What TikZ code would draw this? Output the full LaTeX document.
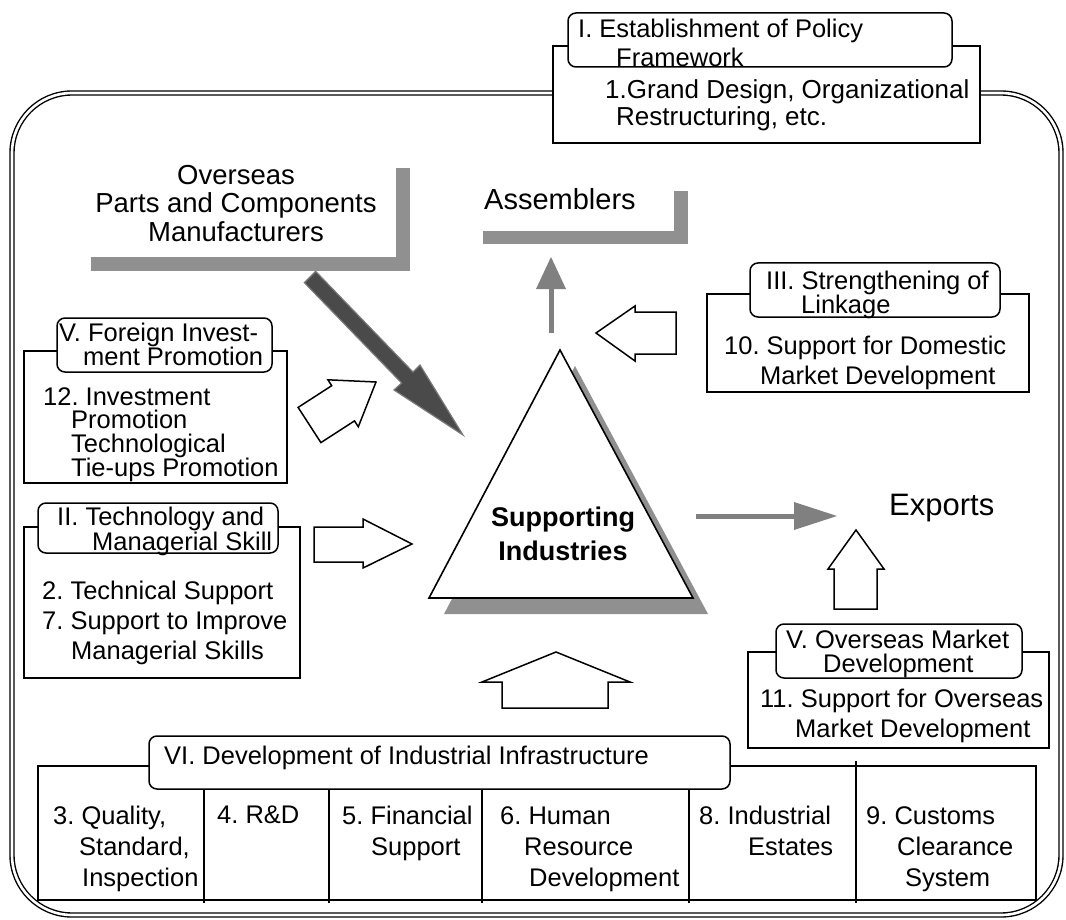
\documentclass[tikz,border=0pt]{standalone}
\usepackage{fontspec}
\setmainfont{Liberation Sans}
\newcommand\fs[2]{\fontsize{#1pt}{#2pt}\selectfont\frenchspacing}
\definecolor{barg}{HTML}{909090}
\definecolor{darkar}{HTML}{4A4A4A}
\definecolor{darkedge}{HTML}{7A7A7A}
\definecolor{arrg}{HTML}{808080}
\begin{document}
\begin{tikzpicture}[x=1pt,y=-1pt,
  frame/.style={double, double distance=2.6pt, line width=1.4pt, rounded corners=60pt},
  box/.style={draw, fill=white, line width=1.5pt},
  ttl/.style={draw, fill=white, line width=1.5pt, rounded corners=8pt},
  txt/.style={anchor=north west, inner sep=0pt, align=left},
  bar/.style={fill=barg, draw=none},
  openarrow/.style={draw, fill=white, line width=1.5pt, line join=miter},
  grayarrow/.style={fill=arrg, draw=none},
  sep/.style={line width=1.5pt}]
\useasboundingbox (0,0) rectangle (1066,920);
% outer frame
\draw[frame] (12,93) rectangle (1061,915);

% Box I
\draw[box] (553,46) rectangle (980,143);
\draw[ttl] (568,13) rectangle (952,67);
\node[txt, font=\fs{25.5}{29}] (t1) at (578,19) {I. Establishment of Policy\\\hspace*{38pt}Framework};
\node[txt, font=\fs{26}{27}] (c1) at (605,79) {1.Grand Design, Organizational\\\hspace*{11pt}Restructuring, etc.};

% Overseas manufacturers
\fill[bar] (396,168) rectangle (410,271);
\fill[bar] (91,257) rectangle (410,271);
\node[anchor=north, inner sep=0pt, align=center, font=\fs{27.5}{28.5}] (ovs) at (236,165) {Overseas\\Parts and Components\\Manufacturers};

% Assemblers
\fill[bar] (674,191) rectangle (688,244);
\fill[bar] (483,231) rectangle (688,244);
\node[txt, font=\fs{29}{30}] (asm) at (484,188) {Assemblers};

% dark arrow
\draw[fill=darkar, draw=darkedge, line width=1.2pt, line join=miter]
  (315.7,271.4) -- (413,372) -- (420,365) -- (463,435) -- (394,390) -- (401.6,383) -- (304.3,282.6) -- cycle;

% triangle
\fill[barg] (575,366) -- (444,614) -- (708,614) -- cycle;
\draw[fill=white, line width=1.6pt, line join=miter] (560,350) -- (429,598) -- (693,598) -- cycle;
\node[anchor=north, inner sep=0pt, align=center, font=\bfseries\fs{27}{34}] (si) at (563,507) {Supporting\\Industries};

% gray up arrow to assemblers
\fill[grayarrow] (548.5,333) rectangle (553.5,287);
\fill[grayarrow] (551,257) -- (536,289) -- (566,289) -- cycle;

% gray right arrow to exports
\fill[grayarrow] (696,513.5) rectangle (796,518.5);
\fill[grayarrow] (837,516) -- (794,502) -- (794,530) -- cycle;
\node[txt, font=\fs{31}{32}] (exp) at (889,494) {Exports};

% Box III
\draw[box] (707,294) rectangle (1029,392);
\draw[ttl] (750,263) rectangle (1000,317);
\node[txt, font=\fs{25.5}{24}] (t3) at (766,271) {III. Strengthening of\\\hspace*{35pt}Linkage};
\node[txt, font=\fs{25.5}{30}] (c3) at (724,336) {10. Support for Domestic\\\hspace*{36pt}Market Development};
\draw[openarrow] (596,333) -- (635,306) -- (635,312) -- (676,312) -- (676,354) -- (635,354) -- (635,361) -- cycle;

% Box V Foreign
\draw[box] (24,351) rectangle (287,483);
\draw[ttl] (57,318) rectangle (272,372);
\node[txt, font=\fs{25.5}{24}] (t5) at (59,323) {V. Foreign Invest-\\\hspace*{24pt}ment Promotion};
\node[txt, font=\fs{25.5}{23.5}] (c12) at (43,387) {12. Investment\\\hspace*{28pt}Promotion\\\hspace*{28pt}Technological\\\hspace*{28pt}Tie-ups Promotion};
\draw[openarrow] (298.1,407.4) -- (331.7,385.7) -- (327.9,379.8) -- (376,382) -- (358.3,426.8) -- (354.5,420.9) -- (320.9,442.6) -- cycle;

% Box II
\draw[box] (24,527) rectangle (300,678);
\draw[ttl] (38,503) rectangle (278,553);
\node[txt, font=\fs{25.5}{23.5}] (t2) at (57,507) {II. Technology and\\\hspace*{35pt}Managerial Skill};
\node[txt, font=\fs{25.5}{30}] (c2) at (42,581) {2. Technical Support\\7. Support to Improve\\\hspace*{29pt}Managerial Skills};
\draw[openarrow] (314,527) -- (363,527) -- (363,519) -- (412,544) -- (363,568) -- (363,562) -- (314,562) -- cycle;

% Box V Overseas market
\draw[openarrow] (856,530) -- (884,569) -- (877,569) -- (877,609) -- (834,609) -- (834,569) -- (828,569) -- cycle;
\draw[box] (748,652) rectangle (1049,748);
\draw[ttl] (776,624) rectangle (1022,678);
\node[txt, font=\fs{25.5}{23.5}] (t5b) at (786,630) {V. Overseas Market\\\hspace*{37pt}Development};
\node[txt, font=\fs{25.5}{30}] (c11) at (760,689) {11. Support for Overseas\\\hspace*{35pt}Market Development};

% bottom up arrow
\draw[openarrow] (556,652) -- (630,682) -- (608,682) -- (608,708) -- (502,708) -- (502,682) -- (482,682) -- cycle;

% Table
\draw[box] (38,766) rectangle (1036,900);
\foreach \xx in {204,329,482,689} \draw[sep] (\xx,766) -- (\xx,903);
\draw[sep] (856,761) -- (856,903);
\draw[ttl] (149,736) rectangle (730,789);
\node[txt, font=\fs{25.5}{30}] (t6) at (164,746) {VI. Development of Industrial Infrastructure};
\node[txt, font=\fs{25.5}{31}] (k3) at (53,806) {3. Quality,\\\hspace*{26pt}Standard,\\\hspace*{29pt}Inspection};
\node[txt, font=\fs{25.5}{31}] (k4) at (217,806) {4. R\&D};
\node[txt, font=\fs{25.5}{31}] (k5) at (342,806) {5. Financial\\\hspace*{29pt}Support};
\node[txt, font=\fs{25.5}{31}] (k6) at (500,806) {6. Human\\\hspace*{24pt}Resource\\\hspace*{29pt}Development};
\node[txt, font=\fs{25.5}{31}] (k8) at (699,806) {8. Industrial\\\hspace*{49pt}Estates};
\node[txt, font=\fs{25.5}{31}] (k9) at (866,806) {9. Customs\\\hspace*{31pt}Clearance\\\hspace*{39pt}System};
\end{tikzpicture}
\end{document}
